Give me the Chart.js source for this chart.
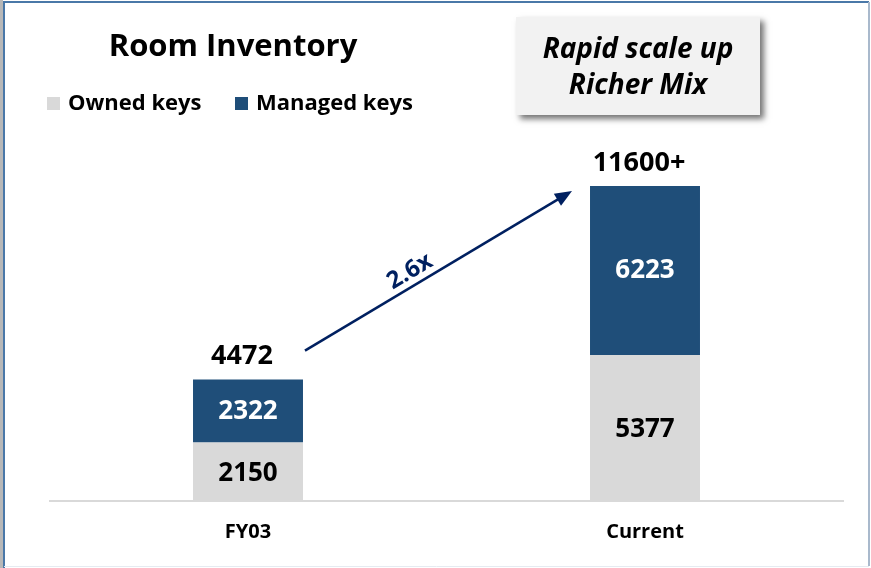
<!DOCTYPE html>
<html>
<head>
<meta charset="utf-8">
<script src="https://cdn.jsdelivr.net/npm/chart.js@4"></script>
<style>
  body { margin: 0; background: #fff; }
</style>
</head>
<body>
<canvas id="myChart" width="871" height="568"></canvas>
<script>
const categories = ['FY03', 'Current'];
const ownedKeys = [2150, 5377];
const managedKeys = [2322, 6223];
const totalLabels = ['4472', '11600+'];
const seriesNames = ['Owned keys', 'Managed keys'];
const growthLabel = '2.6x';
const chartTitle = 'Room Inventory';
const calloutLines = ['Rapid scale up', 'Richer Mix'];

const fontFamily = '"Open Sans", Lato, sans-serif';
const colOwned = '#d9d9d9';
const colManaged = '#1f4e79';
const navy = '#002060';

// titulo, leyenda, etiquetas, flecha y recuadro
const decorPlugin = {
  id: 'decor',
  afterDatasetsDraw(chart) {
    const ctx = chart.ctx;
    const metaOwned = chart.getDatasetMeta(0);
    const metaManaged = chart.getDatasetMeta(1);
    ctx.save();

    // marco
    ctx.fillStyle = '#b8b8b8';
    ctx.fillRect(0, 0, 3, 568);
    ctx.strokeStyle = '#4a78a8';
    ctx.lineWidth = 2;
    ctx.beginPath();
    ctx.moveTo(4, 568); ctx.lineTo(4, 2); ctx.lineTo(869, 2);
    ctx.stroke();
    ctx.strokeStyle = '#a9b9cc';
    ctx.beginPath();
    ctx.moveTo(869, 2); ctx.lineTo(869, 566);
    ctx.stroke();
    ctx.strokeStyle = '#e6ebf1';
    ctx.lineWidth = 1;
    ctx.beginPath();
    ctx.moveTo(4, 566.5); ctx.lineTo(869, 566.5);
    ctx.stroke();

    // titulo
    ctx.fillStyle = '#000';
    ctx.textAlign = 'center';
    ctx.textBaseline = 'middle';
    ctx.font = `bold 31px ${fontFamily}`;
    ctx.fillText(chartTitle, 233, 47);

    // leyenda
    ctx.font = `bold 22px ${fontFamily}`;
    ctx.textAlign = 'left';
    const legendX = [47, 235];
    const legendCols = [colOwned, colManaged];
    seriesNames.forEach((name, i) => {
      ctx.fillStyle = legendCols[i];
      ctx.fillRect(legendX[i], 97, 13, 13);
      ctx.fillStyle = '#000';
      ctx.fillText(name, legendX[i] + 21, 104);
    });

    // recuadro
    ctx.save();
    ctx.shadowColor = 'rgba(0,0,0,0.55)';
    ctx.shadowBlur = 6;
    ctx.shadowOffsetX = 4;
    ctx.shadowOffsetY = 4;
    ctx.fillStyle = '#f2f2f2';
    ctx.fillRect(516, 17, 244, 98);
    ctx.restore();
    ctx.fillStyle = '#000';
    ctx.textAlign = 'center';
    ctx.font = `italic bold 28px ${fontFamily}`;
    ctx.fillText(calloutLines[0], 638, 50);
    ctx.fillText(calloutLines[1], 638, 86);

    // valores de las barras
    ctx.font = `bold 26px ${fontFamily}`;
    metaOwned.data.forEach((bar, i) => {
      ctx.fillStyle = '#000';
      ctx.fillText(ownedKeys[i], bar.x, (bar.y + bar.base) / 2 + 2);
    });
    metaManaged.data.forEach((bar, i) => {
      ctx.fillStyle = '#fff';
      ctx.fillText(managedKeys[i], bar.x, (bar.y + bar.base) / 2);
    });
    ctx.font = `bold 27px ${fontFamily}`;
    ctx.fillStyle = '#000';
    metaManaged.data.forEach((bar, i) => {
      ctx.fillText(totalLabels[i], bar.x - 6, bar.y - 23);
    });

    // flecha
    const b0 = metaManaged.data[0];
    const b1 = metaManaged.data[1];
    const x0 = b0.x + b0.width / 2 + 2, y0 = b0.y - 29;
    const x1 = b1.x - b1.width / 2 - 18, y1 = b1.y + 5;
    const ang = Math.atan2(y1 - y0, x1 - x0);
    ctx.strokeStyle = navy;
    ctx.fillStyle = navy;
    ctx.lineWidth = 2.5;
    ctx.beginPath();
    ctx.moveTo(x0, y0);
    ctx.lineTo(x1 - 12 * Math.cos(ang), y1 - 12 * Math.sin(ang));
    ctx.stroke();
    ctx.beginPath();
    ctx.moveTo(x1, y1);
    ctx.lineTo(x1 - 17 * Math.cos(ang) + 7 * Math.sin(ang), y1 - 17 * Math.sin(ang) - 7 * Math.cos(ang));
    ctx.lineTo(x1 - 17 * Math.cos(ang) - 7 * Math.sin(ang), y1 - 17 * Math.sin(ang) + 7 * Math.cos(ang));
    ctx.closePath();
    ctx.fill();

    const t = 0.42;
    const lx = x0 + (x1 - x0) * t + 14 * Math.sin(ang);
    const ly = y0 + (y1 - y0) * t - 14 * Math.cos(ang);
    ctx.translate(lx, ly);
    ctx.rotate(ang);
    ctx.font = `bold 24px ${fontFamily}`;
    ctx.fillText(growthLabel, 0, 0);

    ctx.restore();
  }
};

const data = {
  labels: categories,
  datasets: [
    { label: seriesNames[0], data: ownedKeys, backgroundColor: colOwned },
    { label: seriesNames[1], data: managedKeys, backgroundColor: colManaged }
  ]
};

new Chart(document.getElementById('myChart'), {
  type: 'bar',
  data: data,
  options: {
    responsive: false,
    animation: false,
    devicePixelRatio: 1,
    layout: { padding: { left: 49.5, right: 27.5, top: 72, bottom: 27 } },
    plugins: { legend: { display: false }, tooltip: { enabled: false } },
    datasets: { bar: { categoryPercentage: 1, barPercentage: 0.277 } },
    scales: {
      x: {
        stacked: true,
        grid: { display: false, drawTicks: false },
        border: { color: '#d9d9d9', width: 2 },
        ticks: { color: '#000', font: { family: fontFamily, size: 20, weight: 'bold' }, padding: 19 },
        afterFit: (scale) => { scale.height = 40; }
      },
      y: {
        stacked: true,
        display: false,
        min: 0,
        max: 15800
      }
    }
  },
  plugins: [decorPlugin]
});
</script>
</body>
</html>
